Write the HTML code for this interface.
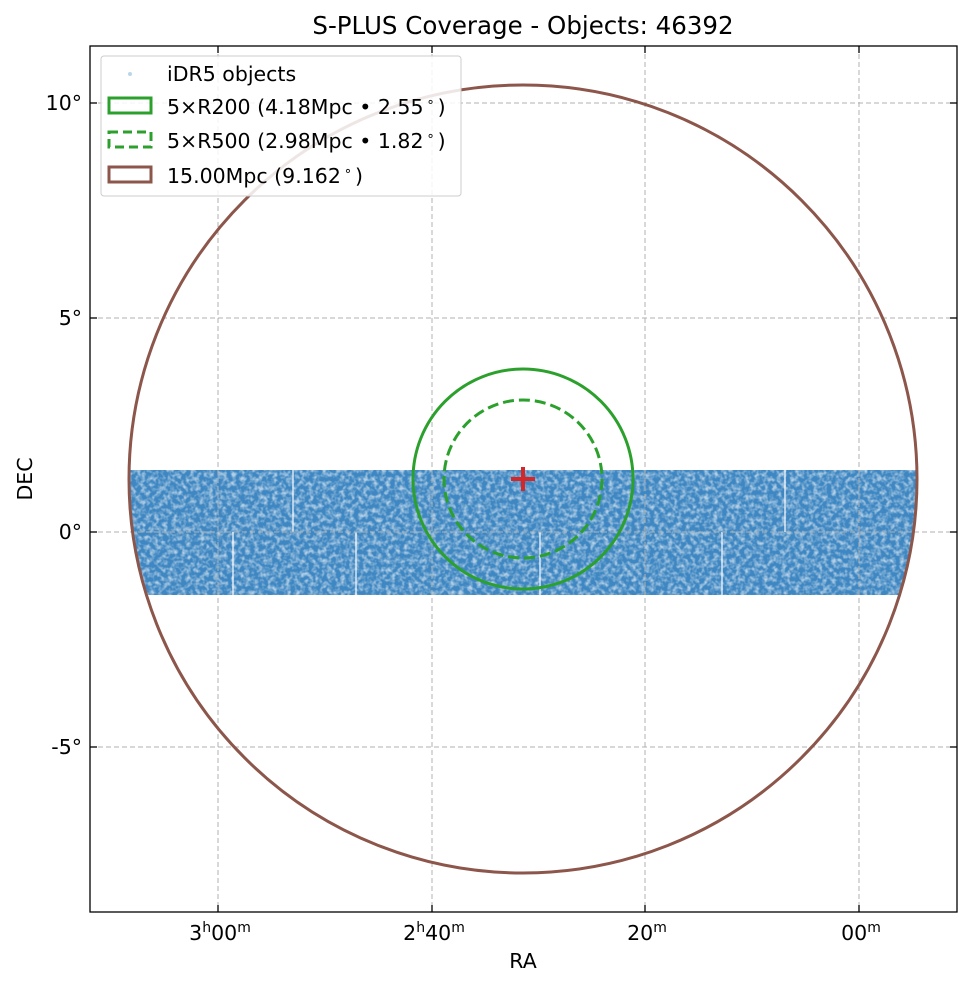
<!DOCTYPE html>
<html><head><style>
body{margin:0;background:#fff;}
svg text{font-family:"DejaVu Sans","Liberation Sans",sans-serif;fill:#000;}
</style></head><body>
<svg width="972" height="986" viewBox="0 0 972 986" xmlns="http://www.w3.org/2000/svg">
<defs>
<clipPath id="cc"><circle cx="523" cy="479" r="394"/></clipPath>
<filter id="nz" x="0" y="0" width="100%" height="100%">
<feTurbulence type="fractalNoise" baseFrequency="0.22" numOctaves="2" seed="3" result="t"/>
<feColorMatrix in="t" type="matrix" values="0 0 0 0 1  0 0 0 0 1  0 0 0 0 1  0 0 0 -2.4 1.45" result="w"/>
<feComposite in="w" in2="SourceGraphic" operator="in"/>
</filter>
</defs>
<rect width="972" height="986" fill="#fff"/>
<text x="523" y="34" font-size="24.5" text-anchor="middle">S-PLUS Coverage - Objects: 46392</text>
<g clip-path="url(#cc)">
<rect x="120" y="470" width="800" height="125" fill="#3f87c2"/>
<rect x="120" y="470" width="800" height="125" fill="#fff" filter="url(#nz)" opacity="0.6"/>
<g stroke="#fff" stroke-width="2" opacity="0.6">
<line x1="293" y1="470" x2="293" y2="532"/><line x1="233" y1="532" x2="233" y2="595"/>
<line x1="356" y1="532" x2="356" y2="595"/><line x1="540" y1="532" x2="540" y2="595"/>
<line x1="722" y1="532" x2="722" y2="595"/><line x1="785" y1="470" x2="785" y2="532"/>
</g>
</g>
<g stroke="#b0b0b0" stroke-width="1" stroke-dasharray="5,3">
<line x1="218" y1="46" x2="218" y2="912"/><line x1="432" y1="46" x2="432" y2="912"/>
<line x1="645" y1="46" x2="645" y2="912"/><line x1="859" y1="46" x2="859" y2="912"/>
<line x1="90" y1="103" x2="957" y2="103"/><line x1="90" y1="318" x2="957" y2="318"/>
<line x1="90" y1="532" x2="957" y2="532"/><line x1="90" y1="747" x2="957" y2="747"/>
</g>
<circle cx="523" cy="479" r="394" fill="none" stroke="#8c564b" stroke-width="3"/>
<circle cx="523" cy="479" r="110" fill="none" stroke="#2ca02c" stroke-width="3"/>
<circle cx="523" cy="479" r="79" fill="none" stroke="#2ca02c" stroke-width="3" stroke-dasharray="11,5"/>
<g stroke="#d62728" stroke-width="4"><line x1="511" y1="479" x2="535" y2="479"/><line x1="523" y1="467" x2="523" y2="491"/></g>
<rect x="90" y="46" width="867" height="866" fill="none" stroke="#000" stroke-width="1.3"/>
<g stroke="#000" stroke-width="1.3">
<line x1="218" y1="912" x2="218" y2="905"/><line x1="432" y1="912" x2="432" y2="905"/><line x1="645" y1="912" x2="645" y2="905"/><line x1="859" y1="912" x2="859" y2="905"/>
<line x1="218" y1="46" x2="218" y2="53"/><line x1="432" y1="46" x2="432" y2="53"/><line x1="645" y1="46" x2="645" y2="53"/><line x1="859" y1="46" x2="859" y2="53"/>
<line x1="90" y1="103" x2="97" y2="103"/><line x1="90" y1="318" x2="97" y2="318"/><line x1="90" y1="532" x2="97" y2="532"/><line x1="90" y1="747" x2="97" y2="747"/>
<line x1="957" y1="103" x2="950" y2="103"/><line x1="957" y1="318" x2="950" y2="318"/><line x1="957" y1="532" x2="950" y2="532"/><line x1="957" y1="747" x2="950" y2="747"/>
</g>
<g font-size="20.5">
<text x="220" y="940" text-anchor="middle">3<tspan font-size="14" dy="-8">h</tspan><tspan dy="8">00</tspan><tspan font-size="14" dy="-8">m</tspan></text>
<text x="434" y="940" text-anchor="middle">2<tspan font-size="14" dy="-8">h</tspan><tspan dy="8">40</tspan><tspan font-size="14" dy="-8">m</tspan></text>
<text x="647" y="940" text-anchor="middle">20<tspan font-size="14" dy="-8">m</tspan></text>
<text x="861" y="940" text-anchor="middle">00<tspan font-size="14" dy="-8">m</tspan></text>
<text x="82" y="110" text-anchor="end">10°</text>
<text x="82" y="325" text-anchor="end">5°</text>
<text x="82" y="539" text-anchor="end">0°</text>
<text x="82" y="754" text-anchor="end">-5°</text>
<text x="523" y="968" text-anchor="middle">RA</text>
<text transform="translate(32,479) rotate(-90)" text-anchor="middle">DEC</text>
</g>
<rect x="101" y="56" width="360" height="140" rx="3" fill="#fff" fill-opacity="0.85" stroke="#ccc"/>
<circle cx="130" cy="74" r="2" fill="#1f77b4" opacity="0.3"/>
<rect x="109" y="98" width="42" height="15" fill="none" stroke="#2ca02c" stroke-width="3"/>
<rect x="109" y="132" width="42" height="15" fill="none" stroke="#2ca02c" stroke-width="3" stroke-dasharray="9,5"/>
<rect x="109" y="167" width="42" height="15" fill="none" stroke="#8c564b" stroke-width="3"/>
<g font-size="20.5">
<text x="167" y="81">iDR5 objects</text>
<text x="167" y="114">5×R200 (4.18Mpc • 2.55<tspan font-size="13" dy="-8" dx="3">∘</tspan><tspan dy="8" dx="3">)</tspan></text>
<text x="167" y="148">5×R500 (2.98Mpc • 1.82<tspan font-size="13" dy="-8" dx="3">∘</tspan><tspan dy="8" dx="3">)</tspan></text>
<text x="167" y="183">15.00Mpc (9.162<tspan font-size="13" dy="-8" dx="3">∘</tspan><tspan dy="8" dx="3">)</tspan></text>
</g>
</svg>
</body></html>
